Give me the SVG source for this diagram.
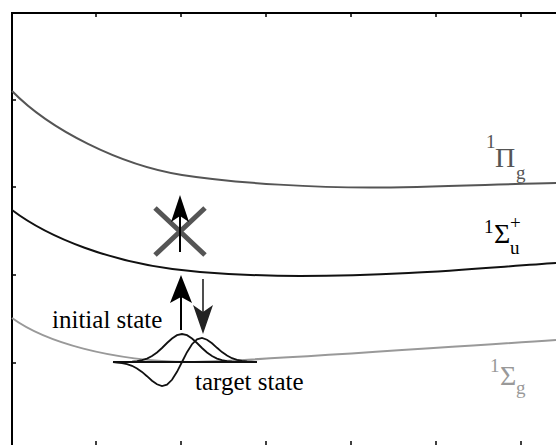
<svg xmlns="http://www.w3.org/2000/svg" width="556" height="445" viewBox="0 0 556 445">
<style>
.ax{stroke:#000;stroke-width:2;fill:none}
.tk{stroke:#000;stroke-width:1.5}
.lbl{font-size:25px;fill:#000}
.big{font-size:28px}
.sm{font-size:19px}
</style>
<rect width="556" height="445" fill="#fff"/>
<g id="axes">
<path class="ax" d="M12,445 V13 H556"/>
<path class="tk" d="M96,13v4M181,13v4M266,13v4M351,13v4M436,13v4M521,13v4M96,445v-4M181,445v-4M266,445v-4M351,445v-4M436,445v-4M521,445v-4M12,100h4M12,187h4M12,275h4M12,363h4"/>
</g>
<g font-family="'Liberation Serif', 'DejaVu Serif', serif">
<g id="curve-pi">
<path d="M12,91 C50,130 120,165 182,175 C240,184 320,187.5 370,187.5 C430,187.5 500,184 556,183" fill="none" stroke="#555" stroke-width="2"/>
<text x="486" y="148" class="sm" fill="#555">1</text><text x="495" y="167" class="big" fill="#555">Π</text><text x="516" y="179" class="sm" fill="#555">g</text>
</g>
<g id="curve-sigma-u">
<path d="M12,210 C45,235 110,265 200,272 C240,275 270,276 300,276 C400,276 480,268 556,263" fill="none" stroke="#111" stroke-width="2"/>
<text x="484" y="233" class="sm">1</text><text x="494" y="243" class="big">Σ</text><text x="510" y="229" class="sm">+</text><text x="510" y="254" class="sm">u</text>
</g>
<g id="curve-sigma-g">
<path d="M12,318 C45,342 110,361 190,362 C240,362 400,350 556,340" fill="none" stroke="#999" stroke-width="2"/>
<text x="490" y="372" class="sm" fill="#999">1</text><text x="500" y="385" class="big" fill="#999">Σ</text><text x="516" y="394" class="sm" fill="#999">g</text>
</g>
<g id="label-initial"><text x="52" y="328" class="lbl">initial state</text></g>
<g id="label-target"><text x="195" y="390" class="lbl">target state</text></g>
</g>
<g id="wavepackets" fill="none" stroke="#111" stroke-width="1.8">
<line x1="113" y1="362" x2="257" y2="362" stroke-width="2"/>
<polyline points="113,362 122,362 132,361.6 137,361.2 142,360.2 147,358.6 152,356.1 157,352.5 162,348 167,343 172,338.5 177,335.2 182,334 187,335.2 192,338.5 197,343 202,348 207,352.5 212,356.1 217,358.6 222,360.2 227,361.2 232,361.6 242,362 257,362"/>
<polyline points="113,362 117,362.5 122,363.1 127,364.1 132,365.8 137,368.4 142,371.9 147,376.2 152,380.7 157,384.3 162,386 167,384.7 172,379.8 177,371.8 182,362 187,352.2 192,344.2 197,339.3 202,338 207,339.7 212,343.3 217,347.8 222,352.1 227,355.6 232,358.2 237,359.9 242,360.9 247,361.5 257,362"/>
</g>
<g id="connectors">
<g id="blocked">
<path d="M155,208 L205,255 M205,208 L155,255" stroke="#555" stroke-width="5"/>
<line x1="180" y1="252" x2="180" y2="214" stroke="#000" stroke-width="2"/>
<path d="M180,195 L189,222 L180,216 L171,222 Z" fill="#000"/>
</g>
<g id="excite">
<line x1="181" y1="330" x2="181" y2="296" stroke="#000" stroke-width="2"/>
<path d="M181,275 L192,303 L181,297 L170,303 Z" fill="#000"/>
</g>
<g id="dump">
<line x1="203" y1="279" x2="203" y2="313" stroke="#222" stroke-width="1.6"/>
<path d="M203,334 L213,305 L203,312 L193,305 Z" fill="#222"/>
</g>
</g>
</svg>
